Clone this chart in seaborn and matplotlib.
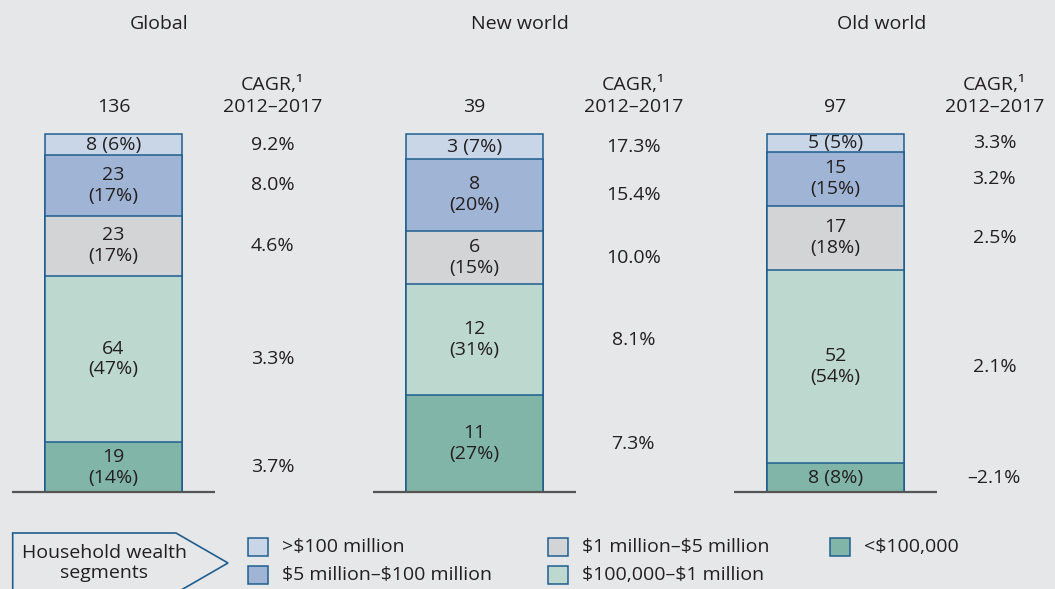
import numpy as np
import pandas as pd
import matplotlib.pyplot as plt
import seaborn as sns
from matplotlib.patches import Rectangle, Polygon

# Household wealth by segment, 2017 ($trillion) and growth 2012-2017
regions = ["Global", "New world", "Old world"]
totals = [136, 39, 97]
segments = [">$100 million", "$5 million–$100 million", "$1 million–$5 million",
            "$100,000–$1 million", "<$100,000"]
values_global = [8, 23, 23, 64, 19]
values_new = [3, 8, 6, 12, 11]
values_old = [5, 15, 17, 52, 8]
shares_global = [6, 17, 17, 47, 14]
shares_new = [7, 20, 15, 31, 27]
shares_old = [5, 15, 18, 54, 8]
cagr_global = [9.2, 8.0, 4.6, 3.3, 3.7]
cagr_new = [17.3, 15.4, 10.0, 8.1, 7.3]
cagr_old = [3.3, 3.2, 2.5, 2.1, -2.1]

colors = ["#c8d6e8", "#a0b5d5", "#d3d4d6", "#bdd8cf", "#81b5a7"]
edge = "#1f5e8e"
bg = "#e6e7e9"
txt = "#231f20"

# long table, top segment first
rows = []
for region, vals, shs, cg in zip(regions, [values_global, values_new, values_old],
                                 [shares_global, shares_new, shares_old],
                                 [cagr_global, cagr_new, cagr_old]):
    frac = np.array(shs) / sum(shs)
    top = 1 - np.concatenate([[0], np.cumsum(frac)[:-1]])
    for seg, v, s, f, t, c in zip(segments, vals, shs, frac, top, cg):
        rows.append(dict(region=region, segment=seg, value=v, share=s,
                         frac=f, top=t, mid=t - f / 2, cagr=c))
df = pd.DataFrame(rows)

sns.set_style("white")
plt.rcParams["font.family"] = ["Open Sans", "DejaVu Sans"]
plt.rcParams["font.size"] = 14
plt.rcParams["text.parse_math"] = False

fig = plt.figure(figsize=(10.55, 5.89), dpi=100, facecolor=bg)
ax = fig.add_axes([0, 0, 1, 1])
ax.set_facecolor(bg)

# stacked bars: draw cumulative heights from the top, smaller ones overlay
for seg, col in zip(segments, colors):
    sub = df[df["segment"] == seg]
    sns.barplot(data=sub, x="region", y="top", order=regions, color=col,
                saturation=1, width=0.38, edgecolor=edge, linewidth=1.1, ax=ax)

ax.set_xlim(-113.5 / 361, (1055 - 113.5) / 361)
ax.set_ylim(-(589 - 492) / 358, 492 / 358)
ax.set_axis_off()

for i, region in enumerate(regions):
    ax.hlines(0, i - 0.281, i + 0.281, color="#555555", lw=1.6, zorder=5)
    ax.text(i + 0.127, 1.307, region, ha="center", va="center", color=txt)
    ax.text(i, 1.075, str(totals[i]), ha="center", va="center", color=txt)
    ax.text(i + 0.44, 1.137, "CAGR,¹", ha="center", va="center", color=txt)
    ax.text(i + 0.44, 1.075, "2012–2017", ha="center", va="center", color=txt)
    sub = df[df["region"] == region]
    for _, r in sub.iterrows():
        if r["share"] < 10:
            lab = f"{r['value']} ({r['share']}%)"
        else:
            lab = f"{r['value']}\n({r['share']}%)"
        ax.text(i, r["mid"], lab, ha="center", va="center", color=txt,
                linespacing=1.2, zorder=6)
        cg = f"{abs(r['cagr']):.1f}%"
        if r["cagr"] < 0:
            cg = "–" + cg
        ax.text(i + 0.44, r["mid"], cg, ha="center", va="center", color=txt)


# legend drawn in pixel positions
def fx(px):
    return px / 1055


def fy(py):
    return 1 - py / 589


box = Polygon([(fx(12.7), fy(620)), (fx(12.7), fy(533)), (fx(176), fy(533)),
               (fx(228), fy(563)), (fx(176), fy(593)), (fx(12.7), fy(593))],
              closed=False, fill=False, edgecolor=edge, lw=1.2,
              transform=fig.transFigure)
fig.patches.append(box)
fig.text(fx(104), fy(563), "Household wealth\nsegments", ha="center", va="center",
         color=txt, linespacing=1.1)

leg_pos = [(248, 547), (248, 575), (548, 547), (548, 575), (830, 547)]
for seg, col, (lx, ly) in zip(segments, colors, leg_pos):
    fig.patches.append(Rectangle((fx(lx), fy(ly + 9)), 20 / 1055, 18 / 589,
                                 facecolor=col, edgecolor=edge, lw=1.1,
                                 transform=fig.transFigure))
    fig.text(fx(lx + 34), fy(ly), seg, ha="left", va="center", color=txt)

fig.savefig("out.png", dpi=100, facecolor=bg)
